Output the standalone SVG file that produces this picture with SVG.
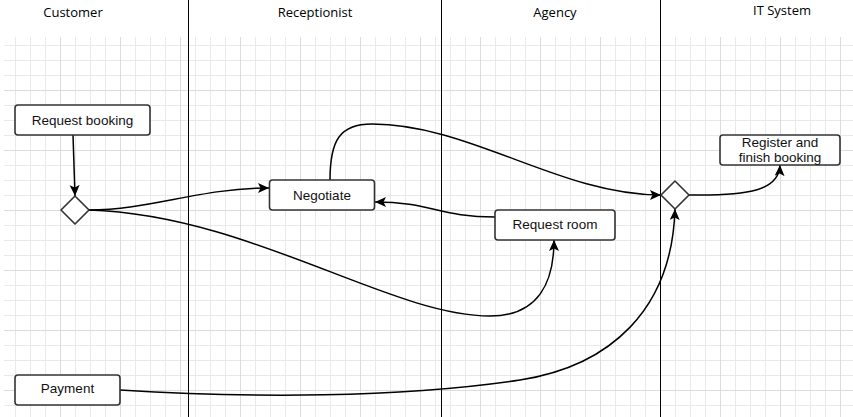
<svg xmlns="http://www.w3.org/2000/svg" width="853" height="417" viewBox="0 0 853 417">
  <defs>
    <pattern id="grid" patternUnits="userSpaceOnUse" x="0" y="0" width="15" height="15">
      <rect x="0" y="0" width="1" height="15" fill="#e9e9e9"/>
      <rect x="0" y="0" width="15" height="1" fill="#e9e9e9"/>
    </pattern>
    <pattern id="grid4" patternUnits="userSpaceOnUse" x="0" y="0" width="60" height="60">
      <rect x="0" y="0" width="1" height="60" fill="#dcdcdc"/>
      <rect x="0" y="30" width="60" height="1" fill="#dcdcdc"/>
    </pattern>
    <marker id="arrow" markerUnits="userSpaceOnUse" markerWidth="13" markerHeight="11" refX="11" refY="5" orient="auto">
      <path d="M0,0 L11,5 L0,10 L2.5,5 Z" fill="#000"/>
    </marker>
    <style>
      .lane { stroke: #000; stroke-width: 1; fill: none; }
      .hdr { font-family: "Open Sans", "Liberation Sans", sans-serif; font-size: 13px; fill: #000; text-anchor: middle; }
      .box { fill: #fff; stroke: #333; stroke-width: 1.6; }
      .lbl { font-family: "Liberation Sans", Arial, sans-serif; font-size: 13.5px; fill: #111; text-anchor: middle; }
      .edge { fill: none; stroke: #000; stroke-width: 1.5; marker-end: url(#arrow); }
    </style>
  </defs>
  <rect x="0" y="0" width="853" height="417" fill="#fff"/>
  <rect x="4" y="37" width="849" height="380" fill="url(#grid)"/>
  <rect x="4" y="37" width="849" height="380" fill="url(#grid4)"/>

  <g id="lanes">
    <line class="lane" x1="188.5" y1="0" x2="188.5" y2="417"/>
    <line class="lane" x1="441.5" y1="0" x2="441.5" y2="417"/>
    <line class="lane" x1="660.5" y1="0" x2="660.5" y2="417"/>
    <text class="hdr" x="73" y="17">Customer</text>
    <text class="hdr" x="315" y="17">Receptionist</text>
    <text class="hdr" x="555" y="17">Agency</text>
    <text class="hdr" x="782" y="15">IT System</text>
  </g>

  <g id="connectors">
    <path class="edge" d="M73,135 L75,196"/>
    <path class="edge" d="M89,210 C150,210 200,188 269,188"/>
    <path class="edge" d="M89,210 C250,215 390,316 490,316 C540,316 554,280 554,240"/>
    <path class="edge" d="M495,217 C440,217 430,202 375,202"/>
    <path class="edge" d="M330,180 C330,140 340,124 372,124 C470,124 560,195 661,195"/>
    <path class="edge" d="M689,195 C750,196 779,190 780,165"/>
    <path class="edge" d="M120,390 C250,398 400,398 520,380 C610,366 672,310 675,209"/>
  </g>

  <g id="request-booking">
    <rect class="box" x="15" y="105" width="135" height="30" rx="3"/>
    <text class="lbl" x="82.5" y="124.5">Request booking</text>
  </g>
  <g id="decision-1">
    <path class="box" d="M75,196 L89,210 L75,224 L61,210 Z" stroke-linejoin="round"/>
  </g>
  <g id="negotiate">
    <rect class="box" x="269.5" y="180" width="105" height="30" rx="3"/>
    <text class="lbl" x="322" y="199.5">Negotiate</text>
  </g>
  <g id="request-room">
    <rect class="box" x="495" y="210" width="120" height="30" rx="3"/>
    <text class="lbl" x="555" y="228.5">Request room</text>
  </g>
  <g id="decision-2">
    <path class="box" d="M675,181 L689,195 L675,209 L661,195 Z" stroke-linejoin="round"/>
  </g>
  <g id="register-finish-booking">
    <rect class="box" x="720" y="135" width="120" height="30" rx="3"/>
    <text class="lbl" x="780" y="146.5">Register and</text>
    <text class="lbl" x="780" y="161.5">finish booking</text>
  </g>
  <g id="payment">
    <rect class="box" x="15" y="375" width="105" height="30" rx="3"/>
    <text class="lbl" x="67.5" y="393">Payment</text>
  </g>
</svg>
